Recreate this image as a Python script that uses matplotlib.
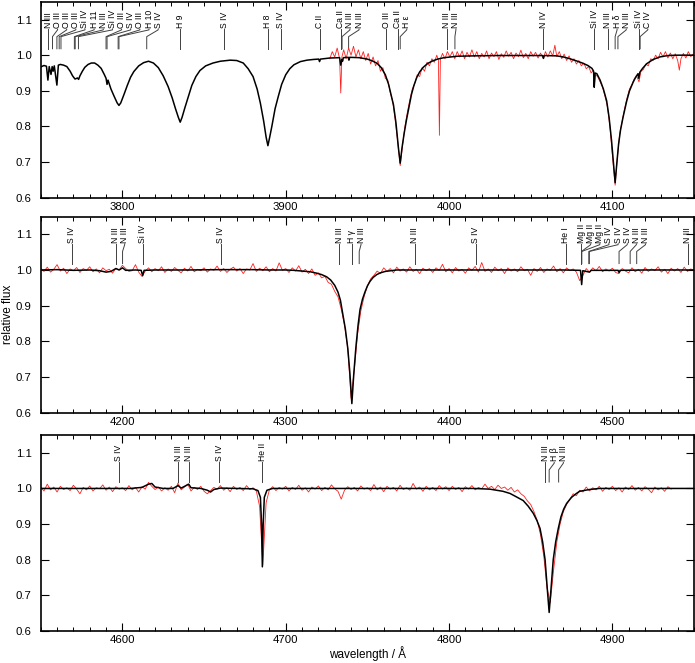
import numpy as np
import matplotlib
matplotlib.use('Agg')
import matplotlib.pyplot as plt
from matplotlib.ticker import MultipleLocator, FormatStrFormatter

plt.rcParams['font.family'] = ['Liberation Sans', 'DejaVu Sans']

# ---- model spectrum (black), wavelength / relative flux
model_top = [
    (3750.5, 0.968), (3752, 0.971), (3753.5, 0.969), (3754.4, 0.93), (3755.2, 0.968),
    (3756.3, 0.946), (3757.0, 0.968), (3757.6, 0.955), (3758.3, 0.97), (3759.9, 0.916),
    (3760.8, 0.972), (3762, 0.974), (3764, 0.972), (3766, 0.968), (3768, 0.955),
    (3769.5, 0.942), (3771, 0.933), (3772.5, 0.936), (3773.2, 0.932), (3774, 0.942),
    (3775.5, 0.955), (3777, 0.966), (3779, 0.974), (3781, 0.978), (3783, 0.978),
    (3785, 0.972), (3787, 0.963), (3789, 0.945), (3790, 0.935), (3790.6, 0.918),
    (3791.2, 0.93), (3793, 0.905), (3795, 0.884), (3796.8, 0.866), (3797.9, 0.859),
    (3799, 0.866), (3801, 0.89), (3803, 0.915), (3805, 0.938), (3807, 0.954),
    (3810, 0.97), (3813, 0.979), (3816, 0.983), (3819, 0.978), (3822, 0.965),
    (3825, 0.942), (3828, 0.912), (3830.5, 0.88), (3832.5, 0.85), (3834.3, 0.825),
    (3835.4, 0.812), (3836.5, 0.825), (3838.3, 0.853), (3840.5, 0.885), (3842.5, 0.915),
    (3845, 0.94), (3847.5, 0.957), (3851, 0.97), (3855.5, 0.978), (3860, 0.983),
    (3866, 0.986), (3870, 0.985), (3874, 0.978), (3877, 0.962), (3880, 0.94),
    (3882.5, 0.905), (3884.5, 0.865), (3886.5, 0.815), (3888, 0.77), (3889.1, 0.746),
    (3890.2, 0.77), (3891.5, 0.8), (3893.5, 0.85), (3895.5, 0.885), (3897.5, 0.918),
    (3900, 0.945), (3902.5, 0.962), (3905, 0.973), (3909, 0.982), (3913, 0.986),
    (3917, 0.988), (3920.2, 0.989), (3920.7, 0.982), (3921.3, 0.989), (3927, 0.992),
    (3933.0, 0.993), (3933.7, 0.972), (3934.4, 0.988), (3934.8, 0.983), (3935.3, 0.993),
    (3938.3, 0.994), (3938.7, 0.986), (3939.2, 0.994), (3945, 0.993), (3950, 0.989),
    (3953, 0.984), (3956, 0.977), (3958.5, 0.965), (3961, 0.945), (3963, 0.918),
    (3964.7, 0.885), (3966, 0.86), (3967.5, 0.81), (3969, 0.74), (3970.1, 0.697),
    (3971.2, 0.74), (3972.5, 0.78), (3974, 0.82), (3975.5, 0.855), (3977, 0.89),
    (3978.5, 0.915), (3980.2, 0.937), (3982, 0.953), (3984.2, 0.966), (3987, 0.977),
    (3990, 0.984), (3993, 0.989), (3997, 0.993), (4001, 0.995), (4005, 0.997),
    (4015, 0.998), (4030, 0.999), (4045, 0.999), (4057.3, 0.999), (4057.8, 0.991),
    (4058.3, 0.999), (4066, 0.998), (4070, 0.995), (4074, 0.99), (4078, 0.984),
    (4081.6, 0.978), (4085, 0.971), (4087.5, 0.963), (4088.5, 0.955), (4088.9, 0.91),
    (4089.4, 0.95), (4090.5, 0.948), (4092.5, 0.93), (4094.5, 0.905), (4096.5, 0.872),
    (4098, 0.825), (4099.5, 0.76), (4100.8, 0.69), (4101.7, 0.642), (4102.6, 0.69),
    (4103.8, 0.75), (4105, 0.79), (4106.5, 0.825), (4108.7, 0.87), (4110.5, 0.9),
    (4112.8, 0.925), (4114.5, 0.94), (4115.7, 0.948), (4116.2, 0.935), (4116.8, 0.952),
    (4118.5, 0.963), (4121, 0.976), (4125, 0.988), (4129, 0.995), (4134, 0.999),
    (4140, 1.0), (4146, 1.0), (4150, 1.0),
]

model_mid = [
    (4150, 1.0), (4160, 1.001), (4170, 0.999), (4180, 1.0), (4186, 0.998),
    (4190, 0.994), (4193, 0.996), (4196, 1.004), (4198, 1.0), (4200.1, 1.006),
    (4202, 0.999), (4208, 1.0), (4211.5, 0.999), (4212.4, 0.984), (4213.3, 0.999),
    (4220, 1.0), (4240, 1.0), (4260, 1.001), (4280, 1.001), (4290, 1.0),
    (4300, 1.0), (4305, 0.999), (4310, 0.997), (4315, 0.995), (4319, 0.991),
    (4322, 0.987), (4325, 0.981), (4327.5, 0.972), (4330, 0.957), (4332, 0.938),
    (4333.5, 0.915), (4335, 0.875), (4336.5, 0.835), (4338, 0.78), (4339.3, 0.71),
    (4340.5, 0.625), (4341.7, 0.71), (4343, 0.785), (4344.3, 0.845), (4345.5, 0.889),
    (4347, 0.918), (4348.5, 0.938), (4350, 0.955), (4351.6, 0.968), (4353.5, 0.979),
    (4355.7, 0.987), (4358, 0.992), (4361, 0.996), (4368, 1.0), (4400, 1.0),
    (4440, 1.0), (4470, 1.0), (4480.5, 0.999), (4481.2, 0.959), (4481.9, 0.998),
    (4486, 0.994), (4487, 0.999), (4503.5, 0.999), (4504.1, 0.993), (4504.7, 0.999),
    (4520, 1.0), (4550, 1.0),
]

model_bot = [
    (4550, 1.0), (4570, 1.0), (4590, 1.0), (4605, 1.0), (4612, 1.003),
    (4616, 1.012), (4618, 1.014), (4620, 1.004), (4625, 1.0), (4631, 1.0),
    (4634.1, 1.008), (4636, 1.001), (4640.6, 1.012), (4642, 1.002), (4648, 1.0),
    (4652, 0.995), (4654, 0.99), (4656, 0.997), (4660, 1.001), (4670, 1.0),
    (4680, 0.999), (4683, 0.994), (4684.5, 0.975), (4685.2, 0.9), (4685.7, 0.78),
    (4686.2, 0.9), (4686.9, 0.975), (4688.5, 0.995), (4692, 1.0), (4720, 1.0),
    (4760, 1.0), (4800, 1.0), (4815, 1.0), (4825, 0.998), (4829, 0.995),
    (4833, 0.992), (4837.3, 0.986), (4841, 0.977), (4845.4, 0.966), (4848.5, 0.95),
    (4851.6, 0.93), (4853.8, 0.91), (4855.7, 0.888), (4857.3, 0.85), (4858.8, 0.8),
    (4860.3, 0.71), (4861.3, 0.652), (4862.3, 0.71), (4863.8, 0.8), (4865.3, 0.85),
    (4866.9, 0.888), (4868.5, 0.92), (4870.2, 0.942), (4872, 0.958), (4875, 0.975),
    (4878, 0.986), (4880, 0.992), (4886, 0.997), (4892, 1.0), (4920, 1.0),
    (4950, 1.0),
]

# ---- observed spectrum (red)
obs_top = [
    (3927, 0.99), (3928.5, 1.01), (3930, 0.995), (3931.5, 1.02), (3933, 0.99),
    (3933.7, 0.894), (3934.4, 0.995), (3935.5, 1.015), (3937, 0.99), (3938.5, 1.02),
    (3940, 1.0), (3941.5, 1.025), (3943, 0.995), (3944.5, 1.015), (3946, 0.99),
    (3947.5, 1.01), (3949, 0.985), (3950.5, 1.005), (3952, 0.975), (3953.5, 0.995),
    (3955, 0.97), (3956.5, 0.985), (3958, 0.955), (3959.5, 0.965), (3961, 0.935),
    (3962.5, 0.93), (3964, 0.895), (3965.5, 0.87), (3967, 0.82), (3968.5, 0.76),
    (3970.1, 0.69), (3971.5, 0.745), (3973, 0.8), (3974.5, 0.84), (3976, 0.875),
    (3977.5, 0.905), (3979, 0.92), (3980.5, 0.945), (3982, 0.94), (3983.5, 0.965),
    (3985, 0.955), (3986.5, 0.98), (3988, 0.97), (3989.5, 0.99), (3991, 0.98),
    (3992.5, 1.0), (3993.5, 0.985), (3994.1, 0.775), (3994.7, 0.99), (3996, 1.005),
    (3997.5, 0.99), (3999, 1.01), (4000.5, 0.995), (4002, 1.01), (4003.5, 0.99),
    (4005, 1.01), (4006.5, 0.995), (4008, 1.012), (4009.5, 0.99), (4011, 1.008),
    (4012.5, 0.995), (4014, 1.015), (4015.5, 0.995), (4017, 1.01), (4018.5, 0.99),
    (4020, 1.005), (4021.5, 0.995), (4023, 1.012), (4024.5, 0.99), (4026, 1.006),
    (4027.5, 0.996), (4029, 1.01), (4030.5, 0.988), (4032, 1.004), (4033.5, 0.994),
    (4035, 1.012), (4036.5, 0.997), (4038, 1.008), (4039.5, 0.99), (4041, 1.006),
    (4042.5, 0.996), (4044, 1.014), (4045.5, 0.993), (4047, 1.005), (4048.5, 0.99),
    (4050, 1.01), (4051.5, 0.997), (4053, 1.008), (4054.5, 0.992), (4056, 1.006),
    (4057.8, 0.99), (4059, 1.01), (4060.5, 0.995), (4062, 1.012), (4063.5, 0.998),
    (4064.8, 1.028), (4066, 0.996), (4067.5, 1.01), (4069, 0.99), (4070.5, 1.003),
    (4072, 0.985), (4073.5, 0.998), (4075, 0.98), (4076.5, 0.99), (4078, 0.975),
    (4079.5, 0.985), (4081, 0.97), (4082.5, 0.978), (4084, 0.962), (4085.5, 0.968),
    (4087, 0.95), (4088.3, 0.958), (4088.9, 0.91), (4089.6, 0.945), (4091, 0.94),
    (4092.5, 0.925), (4094, 0.91), (4095.5, 0.885), (4097, 0.855), (4098.5, 0.8),
    (4100, 0.72), (4101.7, 0.635), (4103, 0.71), (4104.5, 0.78), (4106, 0.815),
    (4107.5, 0.85), (4109, 0.88), (4110.5, 0.905), (4112, 0.918), (4113.5, 0.935),
    (4115, 0.94), (4116.3, 0.925), (4117.5, 0.955), (4119, 0.96), (4120.5, 0.975),
    (4122, 0.97), (4123.5, 0.99), (4125, 0.985), (4126.5, 1.0), (4128, 0.99),
    (4129.5, 1.008), (4131, 0.995), (4132.5, 1.01), (4134, 0.992), (4135.5, 1.006),
    (4137, 0.99), (4138.5, 1.004), (4140, 0.985), (4141, 0.958), (4142, 0.99),
    (4143.5, 1.005), (4145, 0.992), (4146.5, 1.01), (4148, 0.996), (4149.5, 1.003),
]

obs_mid_wl = np.arange(4150, 4551, 2)
obs_mid_fx = [
    1.004, 0.996, 1.008, 0.994, 1.002, 1.015, 0.997, 1.005, 0.99, 1.003,
    0.998, 1.007, 0.993, 1.004, 0.999, 1.009, 0.995, 1.003, 0.992, 1.006,
    0.998, 1.002, 0.991, 1.005, 1.0,
    1.013, 1.004, 0.996, 0.998, 1.015, 0.994, 0.982, 0.997, 1.006, 0.995,
    1.004, 0.998, 1.009, 0.993, 1.003, 0.996, 1.007, 0.999, 0.992, 1.005,
    0.997, 1.01, 0.995, 1.002, 0.998,
    1.006, 0.994, 1.003, 0.999, 1.011, 0.996, 1.004, 0.993, 1.002, 1.008,
    0.997, 1.004, 0.99, 1.003, 1.0, 1.018, 0.996, 1.005, 0.998, 1.009,
    0.995, 1.004, 0.997, 1.02, 0.999,
    1.004, 0.993, 1.006, 0.997, 1.012, 0.994, 1.002, 0.99, 1.003, 0.985,
    0.992, 0.978, 0.982, 0.965, 0.96, 0.94, 0.925, 0.89, 0.845, 0.78,
    0.64, 0.72, 0.82, 0.885, 0.925,
    0.955, 0.975, 0.985, 0.997, 0.99, 1.006, 0.996, 1.004, 0.992, 1.008,
    0.997, 1.003, 0.994, 1.009, 0.996, 1.002, 0.99, 1.005, 0.998, 1.004,
    0.993, 1.006, 0.999, 1.016, 0.995,
    1.004, 0.992, 1.007, 0.997, 1.002, 0.991, 1.006, 0.999, 1.01, 0.994,
    1.021, 0.996, 1.003, 0.993, 1.008, 0.998, 1.004, 0.99, 1.006, 0.997,
    1.003, 0.995, 1.009, 0.998, 1.002,
    0.985, 1.004, 0.996, 1.007, 0.993, 1.003, 0.999, 1.011, 0.995, 1.004,
    0.992, 1.006, 0.998, 1.003, 0.994, 0.97, 0.985, 1.004, 0.994, 1.006,
    0.998, 1.01, 0.995, 1.003, 0.997,
    1.005, 0.993, 0.99, 1.004, 0.997, 0.992, 1.006, 0.995, 1.002, 0.991,
    1.007, 0.996, 1.003, 0.998, 1.009, 0.994, 1.002, 0.99, 1.005, 0.997,
    1.004, 0.993, 1.008, 0.996, 1.003, 0.999,
]

obs_bot_wl = np.arange(4550, 4937, 2)
obs_bot_fx = [
    1.003, 0.993, 1.012, 0.996, 1.004, 0.99, 1.006, 0.997, 1.002, 0.994,
    1.009, 0.998, 0.985, 1.003, 0.996, 1.007, 0.993, 1.002, 0.999, 1.01,
    0.995, 1.004, 0.991, 1.005, 0.998,
    1.002, 0.994, 1.008, 0.996, 1.003, 0.99, 1.005, 0.998, 1.017, 1.006,
    0.997, 1.004, 0.993, 1.002, 0.995, 1.006, 0.988, 1.015, 0.996, 1.004,
    1.012, 0.993, 1.003, 0.997, 1.006,
    0.992, 0.985, 0.994, 1.003, 0.998, 1.008, 0.995, 1.002, 0.991, 1.006,
    0.997, 1.003, 0.994, 1.008, 0.997, 1.002, 0.993, 0.95, 0.785, 0.96,
    0.996, 1.005, 0.994, 1.003, 0.998,
    1.006, 0.993, 1.003, 0.997, 1.009, 0.995, 1.002, 0.99, 1.004, 0.998,
    1.007, 0.994, 1.003, 0.996, 1.01, 0.999, 0.992, 0.97, 0.995, 1.005,
    0.997, 1.003, 0.993, 1.007, 0.998,
    1.002, 0.994, 1.011, 0.996, 1.004, 0.991, 1.006, 0.998, 1.003, 0.993,
    1.009, 0.997, 1.002, 0.995, 1.014, 0.998, 1.004, 0.992, 1.006, 0.996,
    1.003, 0.994, 1.008, 0.998, 1.005,
    0.994, 1.006, 0.997, 1.003, 0.991, 1.005, 0.998, 1.008, 0.996, 1.003,
    0.999, 1.012, 1.0, 1.006, 0.997, 1.009, 1.0, 1.004, 0.995, 1.003,
    0.99, 0.996, 0.985, 0.978, 0.965,
    0.955, 0.935, 0.91, 0.87, 0.81, 0.72, 0.68, 0.77, 0.85, 0.9,
    0.935, 0.955, 0.97, 0.985, 0.98, 0.995, 0.99, 1.004, 0.993, 1.002,
    0.996, 1.006, 0.992, 1.003, 0.997,
    1.006, 0.994, 1.002, 0.99, 1.004, 0.997, 1.008, 0.995, 1.003, 0.993,
    1.005, 0.998, 0.988, 1.004, 0.996, 1.002, 0.992, 1.005, 0.998,
]

# ---- line identifications
top_ions = ['N III', 'O III', 'O III', 'O III', 'Si IV', 'H 11', 'N III', 'Si IV',
            'O III', 'S IV', 'O III', 'H 10', 'S IV', 'H 9', 'S IV', 'H 8', 'S IV',
            'C II', 'Ca II', 'N III', 'N III', 'O III', 'Ca II', 'H ε', 'N III',
            'N III', 'N IV', 'Si IV', 'N III', 'H δ', 'N III', 'Si IV', 'C IV']
top_lines = [3754.7, 3757.2, 3759.9, 3761.3, 3762.4, 3770.6, 3771.1, 3773.1,
             3790.0, 3790.6, 3797.4, 3797.9, 3814.9, 3835.4, 3862.3, 3889.1, 3897.0,
             3920.7, 3933.7, 3934.5, 3938.5, 3961.6, 3968.5, 3970.1, 3998.6,
             4003.6, 4057.8, 4088.9, 4097.3, 4101.7, 4103.4, 4116.1, 4117.0]

mid_ions = ['S IV', 'N III', 'N III', 'Si IV', 'S IV', 'N III', 'H γ', 'N III',
            'N III', 'S IV', 'He I', 'Mg II', 'Mg II', 'Mg II', 'S IV', 'S IV',
            'S IV', 'N III', 'N III', 'N III']
mid_lines = [4168.9, 4195.8, 4200.1, 4212.4, 4260.2, 4332.9, 4340.5, 4345.0,
             4379.1, 4416.5, 4471.5, 4481.1, 4481.1, 4481.3, 4485.6, 4485.9,
             4504.1, 4510.9, 4514.9, 4546.3]

bot_ions = ['S IV', 'N III', 'N III', 'S IV', 'He II', 'N III', 'H β', 'N III']
bot_lines = [4597.9, 4634.1, 4640.6, 4659.2, 4685.7, 4858.8, 4861.3, 4867.1]

ranges = [(3750, 4150), (4150, 4550), (4550, 4950)]


def spread(lines, gap):
    pos = []
    for w in lines:
        if pos and w < pos[-1] + gap:
            pos.append(pos[-1] + gap)
        else:
            pos.append(w)
    return pos


def mark_lines(ax, ions, lines, gap=5.6):
    for ion, w, p in zip(ions, lines, spread(lines, gap)):
        ax.plot([p, p, w, w], [1.073, 1.071, 1.052, 1.018], color='0.25', lw=0.7,
                zorder=1)
        ax.text(p, 1.077, ion, rotation=90, ha='center', va='bottom', fontsize=6.2)


fig = plt.figure(figsize=(6.95, 6.63), dpi=100)
bottoms = [0.7018, 0.3778, 0.0483]
axes = [fig.add_axes([0.0586, b, 0.9400, 0.2956]) for b in bottoms]

panels = [
    (model_top, obs_top, None, top_ions, top_lines),
    (model_mid, None, (obs_mid_wl, obs_mid_fx), mid_ions, mid_lines),
    (model_bot, None, (obs_bot_wl, obs_bot_fx), bot_ions, bot_lines),
]

for ax, (lo, hi), (model, obs_pairs, obs_arr, ions, lines) in zip(axes, ranges, panels):
    if obs_pairs is not None:
        ow, of = zip(*obs_pairs)
    else:
        ow, of = obs_arr
    ax.plot(ow, of, color='#ff2020', lw=0.6, zorder=2)
    mw, mf = zip(*model)
    ax.plot(mw, mf, color='black', lw=1.1, zorder=3)
    mark_lines(ax, ions, lines)

    ax.set_xlim(lo, hi)
    ax.set_ylim(0.6, 1.15)
    ax.xaxis.set_major_locator(MultipleLocator(100))
    ax.xaxis.set_minor_locator(MultipleLocator(10))
    ax.yaxis.set_major_locator(MultipleLocator(0.1))
    ax.yaxis.set_major_formatter(FormatStrFormatter('%.1f'))
    ax.tick_params(which='both', direction='in', top=True, right=True, labelsize=8.2)
    ax.tick_params(which='major', length=6, width=0.8)
    ax.tick_params(which='minor', length=3, width=0.7)
    ax.tick_params(axis='x', pad=3)
    ax.tick_params(axis='y', pad=6.5)
    for s in ax.spines.values():
        s.set_linewidth(1.2)

axes[1].set_ylabel('relative flux', fontsize=8.5)
axes[1].yaxis.set_label_coords(-0.041, 0.5)
axes[2].set_xlabel('wavelength / Å', fontsize=8.5, labelpad=1)

plt.savefig('out.png', dpi=100)
